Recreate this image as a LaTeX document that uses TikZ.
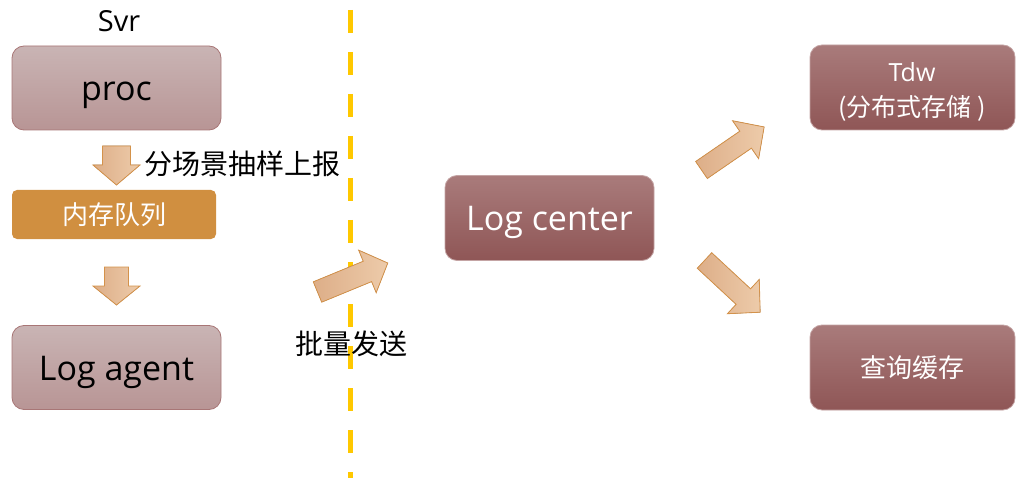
\documentclass[tikz,border=0pt]{standalone}
\usepackage{fontspec}
\setmainfont{Open Sans}
\newfontfamily\cjk{Noto Sans CJK SC}
\definecolor{lt}{HTML}{C9B4B4}
\definecolor{lb}{HTML}{B89595}
\definecolor{lbd}{HTML}{A87676}
\definecolor{dt}{HTML}{A97B7B}
\definecolor{db}{HTML}{8F5656}
\definecolor{dbd}{HTML}{C4A4A4}
\definecolor{queue}{HTML}{D08F40}
\definecolor{arl}{HTML}{DDAE88}
\definecolor{arr}{HTML}{EDCBAA}
\definecolor{arb}{HTML}{D4924A}
\definecolor{dashy}{HTML}{FFC800}
\newcommand\blockarr[7]{%
  \filldraw[blockarrow, shift={(#1,#2)}, rotate=#3]
    (0,-#5) -- (#4-#7,-#5) -- (#4-#7,-#6) -- (#4,0) -- (#4-#7,#6) -- (#4-#7,#5) -- (0,#5) -- cycle;}
\begin{document}
\begin{tikzpicture}[x=1pt,y=-1pt,
  lightbox/.style={rounded corners=12pt, draw=lbd, line width=0.8pt, top color=lt, bottom color=lb,
    minimum width=209pt, minimum height=84pt, inner sep=0pt, font=\fontsize{34}{38}\selectfont, text=black,
    text height=30pt, text depth=5pt},
  darkbox/.style={rounded corners=12pt, draw=dbd, line width=0.8pt, top color=dt, bottom color=db,
    minimum height=85pt, inner sep=0pt, text=white},
  queuebox/.style={rounded corners=5pt, fill=queue, minimum width=204pt, minimum height=49pt,
    inner sep=0pt, text=white, font=\cjk\fontsize{26}{30}\selectfont},
  blockarrow/.style={draw=arb, line width=0.8pt, left color=arl, right color=arr, line join=miter},
  label/.style={inner sep=0pt, text=black},
  yline/.style={draw=dashy, line width=5.5pt, dash pattern=on 23pt off 19pt}
]
\useasboundingbox (0,0) rectangle (1016,478);
% dashed divider
\coordinate (dtop) at (350.5,10);
\coordinate (dbot) at (350.5,478);
\draw[yline] (dtop) -- (dbot);
% left column
\node[label, font=\fontsize{29}{32}\selectfont, anchor=base] (svr) at (119,32) {Svr};
\node[lightbox] (proc) at (116.5,88) {proc};
\node[queuebox] (queue) at (114,214.5) {内存队列};
\node[lightbox] (agent) at (116.5,367.5) {Log agent};
\node[label, anchor=west, font=\cjk\fontsize{28}{30}\selectfont] (sample) at (144,163.5) {分场景抽样上报};
\node[label, font=\cjk\fontsize{28}{30}\selectfont] (batch) at (351.5,344) {批量发送};
% center and right
\node[darkbox, minimum width=209pt, font=\fontsize{34}{38}\selectfont, text height=30pt, text depth=5pt] (center) at (549.5,218) {Log center};
\node[darkbox, minimum width=205pt] (tdw) at (912.5,87.5) {};
\node[inner sep=0pt, text=white, font=\fontsize{25}{36}\selectfont, anchor=base] (tdwa) at (912,82) {Tdw};
\node[inner sep=0pt, text=white, font=\cjk\fontsize{25}{30}\selectfont, anchor=base] (tdwb) at (912,117) {(分布式存储 )};
\node[darkbox, minimum width=205pt, font=\cjk\fontsize{26}{30}\selectfont] (cache) at (912.5,367.5) {查询缓存};
% block arrows
\blockarr{116.5}{146}{-90}{39}{14}{23.5}{20}
\blockarr{116.5}{267}{-90}{38}{12}{23.5}{19}
\blockarr{317.5}{292}{22.4}{76}{11}{23}{22}
\blockarr{701.5}{170}{34.5}{76}{10.3}{23}{22.5}
\blockarr{704.5}{260.5}{-42.9}{76}{10.6}{23.4}{23}
\end{tikzpicture}
\end{document}
